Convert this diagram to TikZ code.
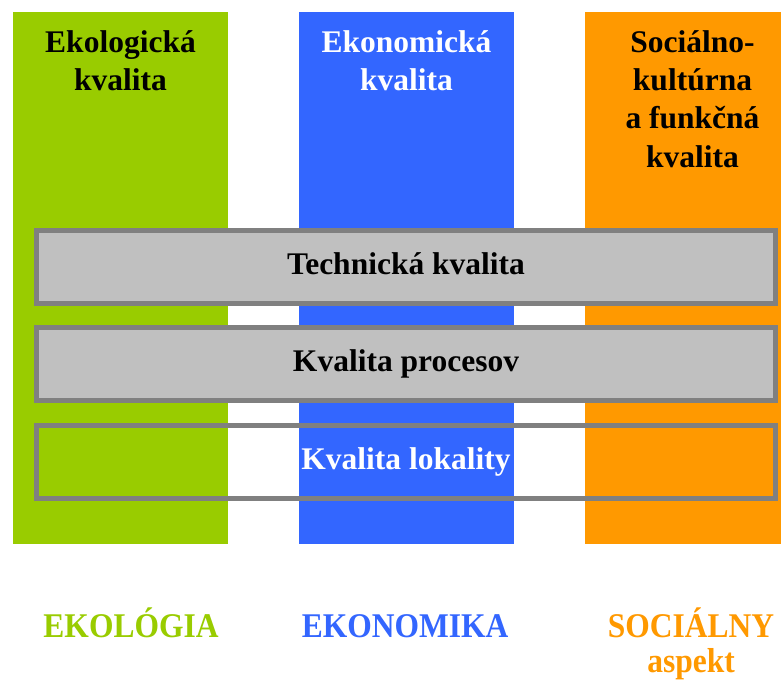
\documentclass[tikz,border=0pt]{standalone}
\usepackage{graphicx}
\usepackage{fontspec}
\setmainfont{Liberation Serif}
\definecolor{cgreen}{HTML}{99CC00}
\definecolor{cblue}{HTML}{3366FF}
\definecolor{corange}{HTML}{FF9900}
\definecolor{cgrayfill}{HTML}{C0C0C0}
\definecolor{cgrayline}{HTML}{808080}
\newcommand{\tallt}[1]{\scalebox{1}[1.1]{#1}}
\begin{document}
\begin{tikzpicture}[x=1pt,y=-1pt,
  colbox/.style={draw=none,inner sep=0pt,minimum width=215pt,minimum height=532pt},
  band/.style={draw=cgrayline,line width=5pt,inner sep=0pt,minimum width=739pt,minimum height=73pt},
  head/.style={font=\fontsize{31.5}{38.2}\selectfont\bfseries,align=center,inner sep=0pt,anchor=base},
  label/.style={font=\fontsize{31.5}{35}\selectfont\bfseries,align=center,inner sep=0pt,anchor=base}]
\clip (0,0) rectangle (781,682);
\fill[white] (0,0) rectangle (781,682);
% columns
\node[colbox,fill=cgreen] (eco) at (120.5,278) {};
\node[colbox,fill=cblue] (econ) at (406.5,278) {};
\node[colbox,fill=corange] (soc) at (692.5,278) {};
% headers (base = last line)
\node[head,text=black] (ecoh) at (120.5,91) {Ekologická\\kvalita};
\node[head,text=white] (econh) at (406.5,91) {Ekonomická\\kvalita};
\node[head,text=black] (soch) at (692.5,167) {Sociálno-\\kultúrna\\a funkčná\\kvalita};
% bands
\node[band,fill=cgrayfill] (tech) at (406,267) {};
\node[band,fill=cgrayfill] (proc) at (406,364) {};
\node[band] (lok) at (406,462) {};
\node[head,text=black] (techt) at (406,274) {Technická kvalita};
\node[head,text=black] (proct) at (406,371) {Kvalita procesov};
\node[head,text=white] (lokt) at (406,469) {Kvalita lokality};
% bottom labels
\node[label,text=cgreen] (l1) at (131,637) {\tallt{EKOLÓGIA}};
\node[label,text=cblue] (l2) at (405,637) {\tallt{EKONOMIKA}};
\node[label,text=corange] (l3) at (691,672) {\tallt{SOCIÁLNY}\\\tallt{aspekt}};
\end{tikzpicture}
\end{document}
